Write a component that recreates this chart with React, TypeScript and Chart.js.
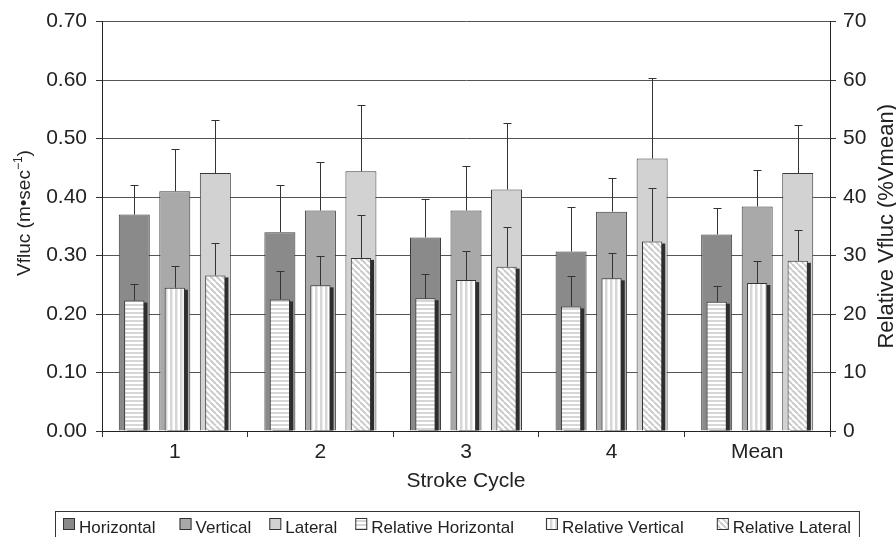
import React, { useEffect, useRef } from 'react';
import { Chart, registerables } from 'chart.js';

Chart.register(...registerables);

// ---------- data ----------
const categories = ['1', '2', '3', '4', 'Mean'];
const seriesLabels = ['Horizontal', 'Vertical', 'Lateral', 'Relative Horizontal', 'Relative Vertical', 'Relative Lateral'];

const horizontal = [0.370, 0.340, 0.331, 0.307, 0.336];
const horizontalSD = [0.051, 0.080, 0.065, 0.076, 0.046];
const vertical = [0.410, 0.377, 0.377, 0.375, 0.384];
const verticalSD = [0.072, 0.083, 0.076, 0.058, 0.062];
const lateral = [0.441, 0.444, 0.413, 0.466, 0.441];
const lateralSD = [0.091, 0.114, 0.113, 0.137, 0.083];

const relHorizontal = [22.3, 22.5, 22.7, 21.3, 22.1];
const relHorizontalSD = [2.9, 4.9, 4.2, 5.2, 2.7];
const relVertical = [24.5, 24.9, 25.8, 26.1, 25.3];
const relVerticalSD = [3.7, 5.0, 5.0, 4.4, 3.7];
const relLateral = [26.6, 29.6, 28.1, 32.4, 29.1];
const relLateralSD = [5.5, 7.4, 6.7, 9.2, 5.2];

const leftAxis = { min: 0, max: 0.7, step: 0.1 };
const rightAxis = { min: 0, max: 70, step: 10 };

const xTitle = 'Stroke Cycle';
const leftTitleMain = 'Vfluc (m\u2022sec';
const leftTitleSup = '\u22121';
const leftTitleEnd = ')';
const rightTitle = 'Relative Vfluc (%Vmean)';

// ---------- style ----------
const FONT = '"Liberation Sans", Arial, Helvetica, sans-serif';
const TEXT = '#222222';

function stripePattern(kind: 'h' | 'v' | 'd'): CanvasPattern | string {
  const c = document.createElement('canvas');
  const s = kind === 'd' ? 6 : kind === 'h' ? 4 : 5;
  c.width = s;
  c.height = s;
  const g = c.getContext('2d');
  if (!g) return '#ffffff';
  g.fillStyle = '#ffffff';
  g.fillRect(0, 0, s, s);
  g.fillStyle = '#d6d6d6';
  if (kind === 'h') g.fillRect(0, 0, s, 2);
  else if (kind === 'v') {
    g.fillRect(0, 0, 2, s);
    g.fillStyle = '#ececec';
    g.fillRect(2, 0, 1, s);
  } else {
    g.strokeStyle = '#cbcbcb';
    g.lineWidth = 2;
    g.beginPath();
    for (const k of [-s, 0, s]) {
      g.moveTo(k, 0);
      g.lineTo(k + s, s);
    }
    g.stroke();
  }
  return g.createPattern(c, 'repeat') || '#ffffff';
}

const shadowPlugin = {
  id: 'barShadow',
  beforeDatasetDraw(chart: any, args: any) {
    const ds = chart.data.datasets[args.index];
    if (!ds.shadow) return;
    const ctx = chart.ctx;
    const meta = chart.getDatasetMeta(args.index);
    ctx.save();
    ctx.fillStyle = '#2e2e2e';
    meta.data.forEach((el: any) => {
      const p = el.getProps(['x', 'y', 'base', 'width'], true);
      const left = p.x - p.width / 2;
      ctx.fillRect(left + 3, p.y + 2, p.width, p.base - p.y - 2);
    });
    ctx.restore();
  },
};

const errorPlugin = {
  id: 'errorBars',
  afterDatasetsDraw(chart: any) {
    const ctx = chart.ctx;
    ctx.save();
    ctx.strokeStyle = '#333333';
    ctx.lineWidth = 1;
    chart.data.datasets.forEach((ds: any, i: number) => {
      if (!ds.errors) return;
      const meta = chart.getDatasetMeta(i);
      const scale = chart.scales[ds.yAxisID];
      meta.data.forEach((el: any, j: number) => {
        const p = el.getProps(['x', 'y'], true);
        const top = Math.round(scale.getPixelForValue(ds.data[j] + ds.errors[j])) + 0.5;
        const x = Math.round(p.x) + 0.5;
        ctx.beginPath();
        ctx.moveTo(x, p.y);
        ctx.lineTo(x, top);
        ctx.moveTo(x - 4, top);
        ctx.lineTo(x + 4, top);
        ctx.stroke();
      });
    });
    ctx.restore();
  },
};

const decorPlugin = {
  id: 'decor',
  afterDraw(chart: any) {
    const ctx = chart.ctx;
    const area = chart.chartArea;
    ctx.save();
    ctx.fillStyle = TEXT;
    ctx.textBaseline = 'alphabetic';

    // left axis title (rotated, with superscript)
    ctx.save();
    ctx.translate(30, 213);
    ctx.rotate(-Math.PI / 2);
    const mainFont = `19px ${FONT}`;
    const supFont = `12px ${FONT}`;
    ctx.font = mainFont;
    const w1 = ctx.measureText(leftTitleMain).width;
    const w3 = ctx.measureText(leftTitleEnd).width;
    ctx.font = supFont;
    const w2 = ctx.measureText(leftTitleSup).width;
    let x = -(w1 + w2 + w3) / 2;
    ctx.font = mainFont;
    ctx.fillText(leftTitleMain, x, 0);
    x += w1;
    ctx.font = supFont;
    ctx.fillText(leftTitleSup, x, -8);
    x += w2;
    ctx.font = mainFont;
    ctx.fillText(leftTitleEnd, x, 0);
    ctx.restore();

    // right axis title (reads bottom to top)
    ctx.save();
    ctx.translate(893, (area.top + area.bottom) / 2);
    ctx.rotate(-Math.PI / 2);
    ctx.font = `22px ${FONT}`;
    ctx.textAlign = 'center';
    ctx.fillText(rightTitle, 0, 0);
    ctx.restore();

    // legend
    const gaps = [24, 18, 18, 32, 33];
    ctx.font = `17px ${FONT}`;
    ctx.textAlign = 'left';
    const widths = chart.data.datasets.map((d: any) => ctx.measureText(d.label).width);
    let lx = 63;
    const boxTop = 518;
    const items: number[] = [];
    chart.data.datasets.forEach((d: any, i: number) => {
      items.push(lx);
      ctx.fillStyle = d.backgroundColor;
      ctx.fillRect(lx, boxTop, 12, 12);
      ctx.strokeStyle = '#333333';
      ctx.lineWidth = 1;
      ctx.strokeRect(lx + 0.5, boxTop + 0.5, 11, 11);
      ctx.fillStyle = TEXT;
      ctx.fillText(d.label, lx + 16, 533);
      lx += 16 + widths[i] + (gaps[i] || 0);
    });
    const legendRight = lx;
    ctx.strokeStyle = '#333333';
    ctx.lineWidth = 1;
    ctx.strokeRect(items[0] - 8 + 0.5, 511.5, legendRight - items[0] + 16, 40);
    ctx.restore();
  },
};

export default function App() {
  const ref = useRef<HTMLCanvasElement | null>(null);

  useEffect(() => {
    const canvas = ref.current;
    if (!canvas) return;
    const tickFont = { family: FONT, size: 21 };
    const stackIds = ['h', 'v', 'l'];

    const wide = (i: number, data: number[], errors: number[], color: string) => ({
      label: seriesLabels[i],
      data,
      errors,
      stack: stackIds[i],
      backgroundColor: color,
      borderColor: '#3a3a3a',
      borderWidth: 1,
      yAxisID: 'y',
      categoryPercentage: 0.835,
      barPercentage: 0.765,
      order: 1,
    });
    const narrow = (i: number, data: number[], errors: number[], fill: any) => ({
      label: seriesLabels[i],
      data,
      errors,
      stack: stackIds[i - 3],
      shadow: true,
      backgroundColor: fill,
      borderColor: '#333333',
      borderWidth: 1,
      yAxisID: 'y2',
      categoryPercentage: 0.835,
      barPercentage: 0.5,
      order: 0,
    });

    const chart = new Chart(canvas, {
      type: 'bar',
      data: {
        labels: categories,
        datasets: [
          wide(0, horizontal, horizontalSD, '#8a8a8a'),
          wide(1, vertical, verticalSD, '#a9a9a9'),
          wide(2, lateral, lateralSD, '#d2d2d2'),
          narrow(3, relHorizontal, relHorizontalSD, stripePattern('h')),
          narrow(4, relVertical, relVerticalSD, stripePattern('v')),
          narrow(5, relLateral, relLateralSD, stripePattern('d')),
        ] as any,
      },
      options: {
        responsive: false,
        animation: false,
        layout: { padding: { top: 20, bottom: 26, left: 0, right: 0 } },
        plugins: {
          legend: { display: false },
          tooltip: { enabled: false },
        },
        scales: {
          x: {
            type: 'category',
            offset: true,
            grid: { offset: true, drawOnChartArea: false, drawTicks: true, tickLength: 6, color: '#333333' },
            border: { display: true, color: '#222222', width: 1 },
            ticks: { font: tickFont, color: TEXT, padding: 3 },
            title: { display: true, text: xTitle, font: tickFont, color: TEXT, padding: { top: 0, bottom: 17 } },
            afterFit: (s: any) => { s.height = 80; },
          },
          y: {
            position: 'left',
            stacked: false,
            min: leftAxis.min,
            max: leftAxis.max,
            ticks: {
              stepSize: leftAxis.step,
              font: tickFont,
              color: TEXT,
              padding: 9,
              callback: (v: any) => Number(v).toFixed(2),
            },
            grid: { color: '#555555', lineWidth: 1, tickLength: 6, tickColor: '#333333' },
            border: { display: true, color: '#222222', width: 1 },
            afterFit: (s: any) => { s.width = 102; },
          },
          y2: {
            position: 'right',
            stacked: false,
            min: rightAxis.min,
            max: rightAxis.max,
            ticks: { stepSize: rightAxis.step, font: tickFont, color: TEXT, padding: 7 },
            grid: { drawOnChartArea: false, tickLength: 6, color: '#333333' },
            border: { display: true, color: '#222222', width: 1 },
            afterFit: (s: any) => { s.width = 66; },
          },
        },
      } as any,
      plugins: [shadowPlugin, errorPlugin, decorPlugin],
    });

    return () => chart.destroy();
  }, []);

  return (
    <div style={{ position: 'fixed', left: 0, top: 0, width: 896, height: 537, background: '#ffffff' }}>
      <canvas ref={ref} width={896} height={537} style={{ display: 'block' }} />
    </div>
  );
}
